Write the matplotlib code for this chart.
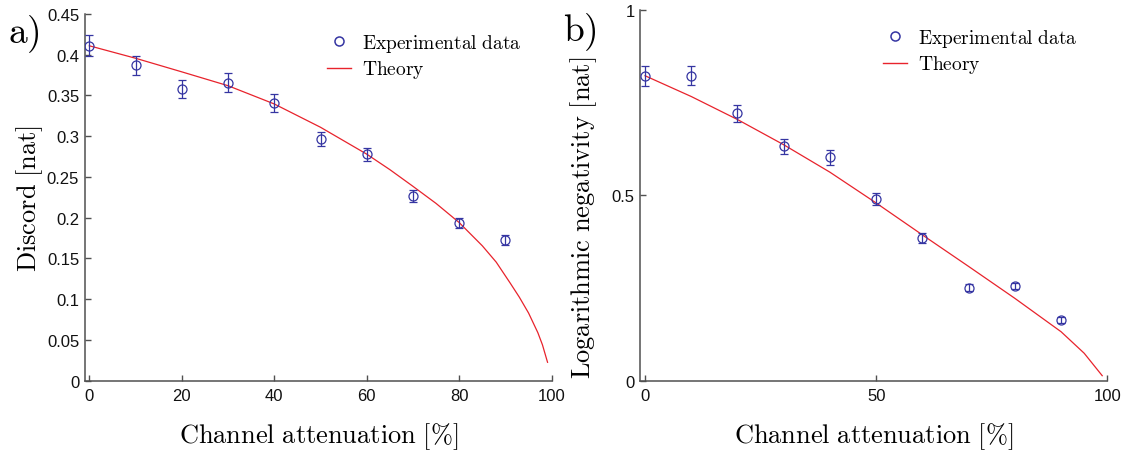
import matplotlib
matplotlib.use("Agg")
import matplotlib.pyplot as plt
from matplotlib.lines import Line2D

# ---------------- data ----------------
attenuation = [0, 10, 20, 30, 40, 50, 60, 70, 80, 90]

discord = [0.411, 0.387, 0.3576, 0.3654, 0.3408, 0.2966, 0.278, 0.2263, 0.1935, 0.173]
discord_err = [0.0127, 0.0119, 0.0112, 0.0117, 0.0112, 0.0082, 0.008, 0.0076, 0.0064, 0.0059]

theory_discord_x = [0, 10, 20, 30, 40, 50, 60, 65, 70, 75, 80, 85, 88, 91, 93, 95, 97, 98, 99.1]
theory_discord_y = [0.411, 0.3957, 0.379, 0.362, 0.3396, 0.311, 0.278, 0.259, 0.2385, 0.2175,
                    0.194, 0.1655, 0.1455, 0.120, 0.1025, 0.083, 0.059, 0.044, 0.0226]

logneg = [0.822, 0.822, 0.7207, 0.6318, 0.602, 0.4898, 0.384, 0.2507, 0.2553, 0.1636]
logneg_err = [0.027, 0.026, 0.0234, 0.021, 0.020, 0.017, 0.014, 0.009, 0.009, 0.008]

theory_logneg_x = [0, 10, 20, 30, 40, 50, 60, 70, 80, 90, 95, 98.9]
theory_logneg_y = [0.822, 0.766, 0.704, 0.636, 0.562, 0.479, 0.393, 0.308, 0.222, 0.132, 0.074, 0.0135]

left_yticks = [0, 0.05, 0.1, 0.15, 0.2, 0.25, 0.3, 0.35, 0.4, 0.45]
left_yticklabels = ["0", "0.05", "0.1", "0.15", "0.2", "0.25", "0.3", "0.35", "0.4", "0.45"]
left_xticks = [0, 20, 40, 60, 80, 100]
right_yticks = [0, 0.5, 1]
right_yticklabels = ["0", "0.5", "1"]
right_xticks = [0, 50, 100]

# ---------------- style ----------------
plt.rcParams["mathtext.fontset"] = "cm"
plt.rcParams["font.family"] = ["Liberation Sans", "DejaVu Sans"]

BLUE = "#3535a2"
RED = "#e8232c"
SPINE = "#505050"

W, H = 1134, 456
fig = plt.figure(figsize=(W / 100, H / 100), dpi=100)

def fx(px):
    return px / W

def fy(py):
    return 1 - py / H

ax1 = fig.add_axes([fx(84.7), fy(381.7), fx(551.7) - fx(84.7), fy(15.0) - fy(381.7)])
ax2 = fig.add_axes([fx(640.4), fy(381.7), fx(1107.3) - fx(640.4), fy(10.7) - fy(381.7)])

def style(ax):
    for s in ["top", "right"]:
        ax.spines[s].set_visible(False)
    for s in ["left", "bottom"]:
        ax.spines[s].set_color(SPINE)
        ax.spines[s].set_linewidth(1.1)
    ax.tick_params(direction="in", length=4, width=1.0, color=SPINE,
                   labelsize=12, labelcolor="#111111")
    ax.tick_params(axis="x", pad=5)
    ax.tick_params(axis="y", pad=4)

def draw(ax, y, yerr, tx, ty):
    ax.errorbar(attenuation, y, yerr=yerr, fmt="o", mfc="none", mec=BLUE, ms=6.5,
                mew=0.9, ecolor=BLUE, elinewidth=0.9, capsize=3.2, capthick=0.9,
                zorder=3)
    ax.plot(tx, ty, color=RED, lw=0.9, zorder=2)

LABEL_FS = 19

# ----- panel a -----
style(ax1)
draw(ax1, discord, discord_err, theory_discord_x, theory_discord_y)
ax1.set_xlim(-1, 100)
ax1.set_ylim(0, 0.45)
ax1.set_xticks(left_xticks)
ax1.set_yticks(left_yticks)
ax1.set_yticklabels(left_yticklabels)
ax1.set_xlabel(r"$\mathrm{Channel\ attenuation\ [\%]}$", fontsize=LABEL_FS, labelpad=13)
ax1.set_ylabel(r"$\mathrm{Discord\ [nat]}$", fontsize=LABEL_FS)
ax1.yaxis.set_label_coords((45 - 84.7) / 467, 0.5)

# ----- panel b -----
style(ax2)
draw(ax2, logneg, logneg_err, theory_logneg_x, theory_logneg_y)
ax2.set_xlim(-1, 100)
ax2.set_ylim(0, 1)
ax2.set_xticks(right_xticks)
ax2.set_yticks(right_yticks)
ax2.set_yticklabels(right_yticklabels)
ax2.set_xlabel(r"$\mathrm{Channel\ attenuation\ [\%]}$", fontsize=LABEL_FS, labelpad=13)
ax2.set_ylabel(r"$\mathrm{Logarithmic\ negativity\ [nat]}$", fontsize=LABEL_FS)
ax2.yaxis.set_label_coords((599 - 640.4) / 466.9, (381.7 - 218) / 371)

# legends
handles = [
    Line2D([], [], ls="none", marker="o", mfc="none", mec=BLUE, ms=6.5, mew=1.1),
    Line2D([], [], color=RED, lw=1.0),
]
labels = [r"$\mathrm{Experimental\ data}$", r"$\mathrm{Theory}$"]
for (lx, ly) in [(326.7, 32.5), (882.7, 27.5)]:
    fig.legend(handles, labels, loc="upper left", bbox_to_anchor=(fx(lx), fy(ly)),
               frameon=False, fontsize=14, borderpad=0, borderaxespad=0,
               handlelength=1.25, handletextpad=0.55, labelspacing=0.25)

# panel labels
fig.text(fx(8), fy(43.5), r"$\mathrm{a)}$", fontsize=27, va="baseline", ha="left")
fig.text(fx(563), fy(41), r"$\mathrm{b)}$", fontsize=27, va="baseline", ha="left")

fig.savefig("out.png", dpi=100)
